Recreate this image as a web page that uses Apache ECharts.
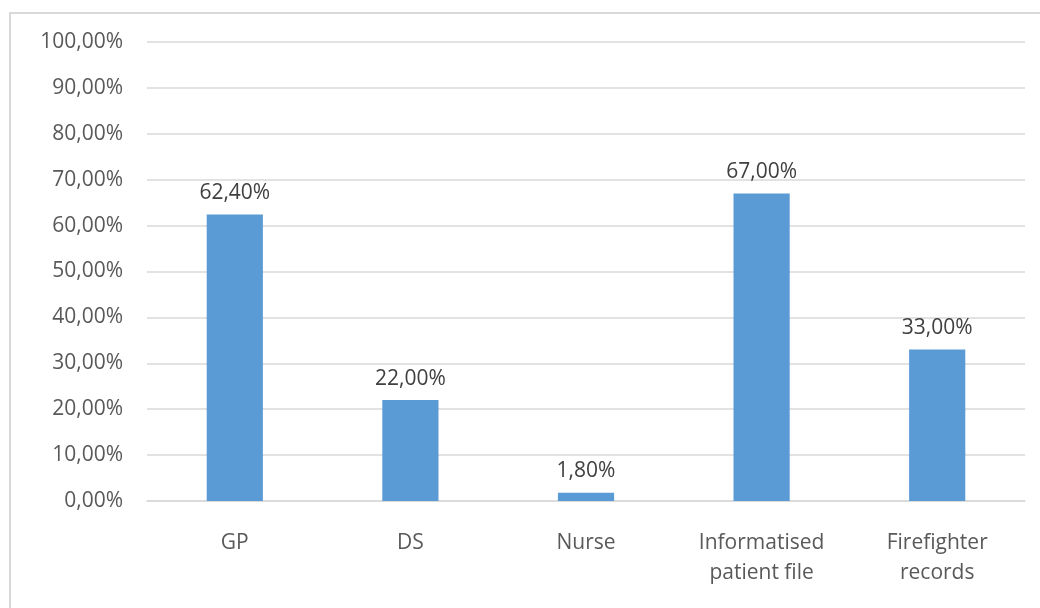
<!DOCTYPE html>
<html>
<head>
<meta charset="utf-8">
<script src="https://cdn.jsdelivr.net/npm/echarts@6/dist/echarts.min.js"></script>
<style>
  html, body { margin: 0; padding: 0; background: #fff; overflow: hidden; }
  #frame { position: absolute; left: 9px; top: 12px; width: 1100px; height: 700px; border: 2px solid #d9d9d9; box-sizing: border-box; }
  #chart { width: 1040px; height: 608px; position: absolute; left: 0; top: 0; }
</style>
</head>
<body>
<div id="frame"></div>
<div id="chart"></div>
<script>
const categories = ["GP", "DS", "Nurse", "Informatised\npatient file", "Firefighter\nrecords"];
const values = [62.4, 22.0, 1.8, 67.0, 33.0];

const fmt = v => v.toFixed(2).replace(".", ",") + "%";

const chart = echarts.init(document.getElementById("chart"));
chart.setOption({
  animation: false,
  grid: { left: 147, right: 15, top: 42, bottom: 107 },
  xAxis: {
    type: "category",
    data: categories,
    axisLine: { lineStyle: { color: "#d9d9d9", width: 1.5 } },
    axisTick: { show: false },
    axisLabel: {
      color: "#595959", fontSize: 21, fontFamily: "Open Sans", margin: 27, lineHeight: 30
    }
  },
  yAxis: {
    type: "value",
    min: 0, max: 100, interval: 10,
    axisLine: { show: false },
    axisTick: { show: false },
    splitLine: { lineStyle: { color: "#d9d9d9", width: 1.5 } },
    axisLabel: {
      color: "#595959", fontSize: 21, fontFamily: "Open Sans", margin: 24,
      formatter: v => fmt(v)
    }
  },
  series: [{
    type: "bar",
    data: values,
    barWidth: "32%",
    itemStyle: { color: "#5b9bd5" },
    label: {
      show: true, position: "top", distance: 11,
      color: "#404040", fontSize: 21, fontFamily: "Open Sans",
      formatter: p => fmt(p.value)
    }
  }]
});
</script>
</body>
</html>
